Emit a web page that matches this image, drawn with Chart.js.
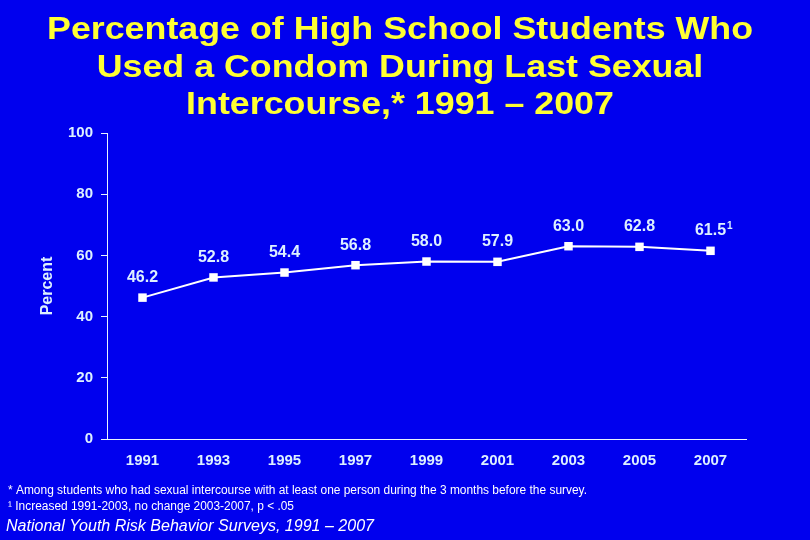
<!DOCTYPE html>
<html>
<head>
<meta charset="utf-8">
<script src="https://cdn.jsdelivr.net/npm/chart.js@4.4.1/dist/chart.umd.min.js"></script>
<style>
html, body { margin: 0; padding: 0; background: #0000EE; }
#condomChart { display: block; }
</style>
</head>
<body>
<canvas id="condomChart" width="810" height="540"></canvas>
<script>
// chart data
const years = ["1991", "1993", "1995", "1997", "1999", "2001", "2003", "2005", "2007"];
const percents = [46.2, 52.8, 54.4, 56.8, 58.0, 57.9, 63.0, 62.8, 61.5];
const pointLabels = ["46.2", "52.8", "54.4", "56.8", "58.0", "57.9", "63.0", "62.8", "61.5"];
const labelMarks = ["", "", "", "", "", "", "", "", "1"];
const yTicks = [0, 20, 40, 60, 80, 100];

const titleLines = [
  "Percentage of High School Students Who",
  "Used a Condom During Last Sexual",
  "Intercourse,* 1991 \u2013 2007"
];
const footnotes = [
  "* Among students who had sexual intercourse with at least one person during the 3 months before the survey.",
  "\u00b9 Increased 1991-2003, no change 2003-2007, p < .05"
];
const sourceNote = "National Youth Risk Behavior Surveys, 1991 \u2013 2007";

const bgColor = "#0000EE";
const titleColor = "#FFFF33";
const labelColor = "#DDF0FF";
const fontName = "'Liberation Sans', Arial, sans-serif";

// text squeezed or stretched sideways to a given width
function drawWide(ctx, text, x, y, sx) {
  ctx.save();
  ctx.translate(x, y);
  ctx.scale(sx, 1);
  ctx.fillText(text, 0, 0);
  ctx.restore();
}

// draws the background, title, value labels and notes
const slidePlugin = {
  id: "slide",
  beforeDraw(chart) {
    const ctx = chart.ctx;
    ctx.save();
    ctx.fillStyle = bgColor;
    ctx.fillRect(0, 0, chart.width, chart.height);
    ctx.restore();
  },
  afterDraw(chart) {
    const ctx = chart.ctx;
    ctx.save();

    // title
    ctx.fillStyle = titleColor;
    ctx.font = "bold 32px " + fontName;
    ctx.textAlign = "center";
    ctx.textBaseline = "middle";
    const titleScale = 706 / ctx.measureText(titleLines[0]).width;
    const titleY = [30, 68, 105];
    titleLines.forEach((line, i) => {
      drawWide(ctx, line, 400, titleY[i], titleScale);
    });

    // value labels above the points
    const meta = chart.getDatasetMeta(0);
    ctx.fillStyle = labelColor;
    meta.data.forEach((pt, i) => {
      ctx.font = "bold 16px " + fontName;
      ctx.textAlign = "center";
      ctx.fillText(pointLabels[i], pt.x, pt.y - 20);
      if (labelMarks[i]) {
        const w = ctx.measureText(pointLabels[i]).width;
        ctx.font = "bold 10px " + fontName;
        ctx.textAlign = "left";
        ctx.fillText(labelMarks[i], pt.x + w / 2 + 1, pt.y - 25);
      }
    });

    // footnotes
    ctx.fillStyle = "#FFFFFF";
    ctx.textAlign = "left";
    ctx.font = "12px " + fontName;
    drawWide(ctx, footnotes[0], 8, 491, 579 / ctx.measureText(footnotes[0]).width);
    drawWide(ctx, footnotes[1], 8, 507, 286 / ctx.measureText(footnotes[1]).width);
    ctx.font = "italic 16px " + fontName;
    drawWide(ctx, sourceNote, 6, 527, 368 / ctx.measureText(sourceNote).width);

    ctx.restore();
  }
};

const ctx = document.getElementById("condomChart").getContext("2d");
new Chart(ctx, {
  type: "line",
  data: {
    labels: years,
    datasets: [{
      label: "Used a condom",
      data: percents,
      borderColor: "#FFFFFF",
      borderWidth: 2,
      backgroundColor: "#FFFFFF",
      pointStyle: "rect",
      pointRadius: 6,
      pointBackgroundColor: "#FFFFFF",
      pointBorderWidth: 0,
      tension: 0,
      fill: false
    }]
  },
  options: {
    responsive: false,
    animation: false,
    layout: {
      padding: { top: 133, right: 64, bottom: 0, left: 0 }
    },
    plugins: {
      legend: { display: false },
      tooltip: { enabled: false }
    },
    scales: {
      x: {
        offset: true,
        grid: { display: false, drawTicks: false },
        border: { color: "#E8F4FF", width: 1 },
        ticks: {
          color: labelColor,
          font: { family: fontName, size: 15, weight: "bold" },
          padding: 13
        },
        afterFit(scale) { scale.height = 101; }
      },
      y: {
        min: 0,
        max: 100,
        afterBuildTicks(scale) {
          scale.ticks = yTicks.map(v => ({ value: v }));
        },
        grid: {
          drawOnChartArea: false,
          drawTicks: true,
          tickLength: 6,
          color: "#E8F4FF"
        },
        border: { color: "#E8F4FF", width: 1 },
        ticks: {
          color: labelColor,
          font: { family: fontName, size: 15, weight: "bold" },
          padding: 8
        },
        title: {
          display: true,
          text: "Percent",
          color: labelColor,
          font: { family: fontName, size: 16, weight: "bold" },
          padding: { top: 38, bottom: 0 }
        },
        afterFit(scale) { scale.width = 107; }
      }
    }
  },
  plugins: [slidePlugin]
});
</script>
</body>
</html>
